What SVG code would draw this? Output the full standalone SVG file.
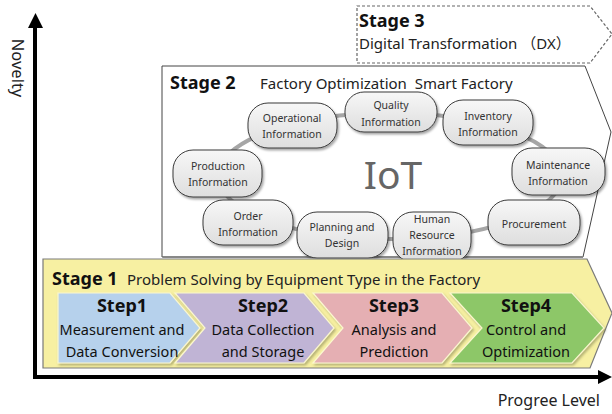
<svg xmlns="http://www.w3.org/2000/svg" width="612" height="414" viewBox="0 0 612 414">
<defs>
<style>
text{font-family:"Noto Sans","Noto Sans CJK JP",sans-serif;fill:#222}
.axis{stroke:#000;stroke-width:4;fill:none}
.node rect{fill:url(#ng);stroke:#3a3a3a;stroke-width:1;filter:url(#sh)}
.node text{font-size:10.5px;text-anchor:middle;fill:#333}
.step{stroke:#fbf7cf;stroke-width:1.2;filter:url(#sh2)}
.st{font-size:18px;font-weight:bold;text-anchor:middle;fill:#111}
.sd{font-size:14.5px;text-anchor:middle;fill:#111}
.title{font-size:18px;font-weight:bold;fill:#111}
.sub{font-size:15px;fill:#222}
</style>
<linearGradient id="ng" x1="0" y1="0" x2="0" y2="1">
<stop offset="0" stop-color="#f7f7f7"/>
<stop offset="1" stop-color="#dedede"/>
</linearGradient>
<filter id="sh" x="-20%" y="-20%" width="140%" height="150%">
<feDropShadow dx="1.5" dy="2" stdDeviation="1.2" flood-color="#000" flood-opacity="0.35"/>
</filter>
<filter id="sh2" x="-10%" y="-10%" width="120%" height="130%">
<feDropShadow dx="1.5" dy="2" stdDeviation="1" flood-color="#6b6a40" flood-opacity="0.45"/>
</filter>
</defs>

<g id="axes">
<line class="axis" x1="35" y1="379" x2="35" y2="26"/>
<polygon points="28,28 35.5,13 43,28" fill="#000"/>
<line class="axis" x1="33" y1="377" x2="600" y2="377"/>
<polygon points="598,370 612,377 598,384" fill="#000"/>
<text x="0" y="0" transform="translate(12,68) rotate(90)" text-anchor="middle" font-size="16.5">Novelty</text>
<text x="600" y="406" text-anchor="end" font-size="16">Progree Level</text>
</g>

<g id="stage3">
<polygon points="357,6 590,6 612,34 590,63 357,63" fill="#fff" stroke="#666" stroke-width="1.2" stroke-dasharray="3,2"/>
<text class="title" x="359" y="27" font-size="17">Stage 3</text>
<text class="sub" x="359" y="49" font-size="16">Digital Transformation （DX）</text>
</g>

<g id="stage2">
<polygon points="162,66 585,66 611,132 583,257 162,257" fill="#fff" stroke="#444" stroke-width="1"/>
<line x1="163" y1="257" x2="583" y2="257" stroke="#888" stroke-width="2"/>
<text class="title" x="170" y="89">Stage 2</text>
<text class="sub" x="260" y="89" xml:space="preserve">Factory Optimization  Smart Factory</text>
</g>

<g id="connectors">
<ellipse cx="390" cy="176" rx="172" ry="63" fill="none" stroke="#a6a6a6" stroke-width="4"/>
</g>

<text x="393" y="189" text-anchor="middle" font-size="39" style="fill:#666">IoT</text>

<g id="n-operational" class="node"><rect x="248" y="103" width="89" height="45" rx="20"/><text x="292" y="122">Operational</text><text x="292" y="138">Information</text></g>
<g id="n-quality" class="node"><rect x="345" y="92" width="92" height="40" rx="19"/><text x="391" y="109">Quality</text><text x="391" y="126">Information</text></g>
<g id="n-inventory" class="node"><rect x="443" y="100" width="90" height="45" rx="20"/><text x="488" y="120">Inventory</text><text x="488" y="136">Information</text></g>
<g id="n-production" class="node"><rect x="173" y="150" width="89" height="47" rx="20"/><text x="218" y="170">Production</text><text x="218" y="186">Information</text></g>
<g id="n-maintenance" class="node"><rect x="512" y="148" width="93" height="47" rx="20"/><text x="558" y="169">Maintenance</text><text x="558" y="185">Information</text></g>
<g id="n-order" class="node"><rect x="203" y="200" width="90" height="45" rx="20"/><text x="248" y="220">Order</text><text x="248" y="236">Information</text></g>
<g id="n-planning" class="node"><rect x="297" y="212" width="91" height="46" rx="20"/><text x="342" y="231">Planning and</text><text x="342" y="247">Design</text></g>
<g id="n-hr" class="node"><rect x="393" y="212" width="78" height="50" rx="20"/><text x="432" y="223">Human</text><text x="432" y="239">Resource</text><text x="432" y="255">Information</text></g>
<g id="n-procurement" class="node"><rect x="488" y="200" width="92" height="45" rx="20"/><text x="534" y="228">Procurement</text></g>

<g id="stage1">
<polygon points="43,259 587,259 612,313 590,368 43,368" fill="#f7f0a2" stroke="#7a7a7a" stroke-width="1.2"/>
<text class="title" x="52" y="285">Stage 1</text>
<text class="sub" x="127" y="285" font-size="14.5">Problem Solving by Equipment Type in the Factory</text>
</g>

<g id="step1">
<polygon class="step" points="58,293 170,293 200,328 170,363 58,363" fill="#b6d1ec"/>
<text class="st" x="122" y="312">Step1</text>
<text class="sd" x="122" y="335">Measurement and</text>
<text class="sd" x="122" y="357">Data Conversion</text>
</g>
<g id="step2">
<polygon class="step" points="175,293 304,293 334,328 304,363 175,363 205,328" fill="#c0b4d5"/>
<text class="st" x="263" y="312">Step2</text>
<text class="sd" x="263" y="335">Data Collection</text>
<text class="sd" x="263" y="357">and Storage</text>
</g>
<g id="step3">
<polygon class="step" points="313,293 442,293 472,328 442,363 313,363 343,328" fill="#e5afb3"/>
<text class="st" x="394" y="312">Step3</text>
<text class="sd" x="394" y="335">Analysis and</text>
<text class="sd" x="394" y="357">Prediction</text>
</g>
<g id="step4">
<polygon class="step" points="450,293 572,293 604,328 572,363 450,363 482,328" fill="#8dc767"/>
<text class="st" x="526" y="312">Step4</text>
<text class="sd" x="526" y="335">Control and</text>
<text class="sd" x="526" y="357">Optimization</text>
</g>
</svg>
